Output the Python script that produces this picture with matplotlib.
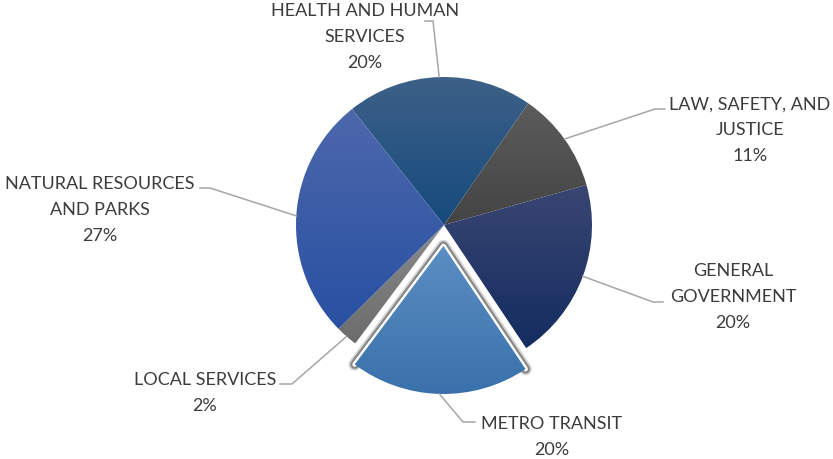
import matplotlib
matplotlib.use("Agg")
import matplotlib.pyplot as plt
import numpy as np
from matplotlib.colors import LinearSegmentedColormap

# ---- data ----
categories = ["HEALTH AND HUMAN\nSERVICES", "LAW, SAFETY, AND\nJUSTICE", "GENERAL\nGOVERNMENT",
              "METRO TRANSIT", "LOCAL SERVICES", "NATURAL RESOURCES\nAND PARKS"]
values = [20.3, 11.0, 20.0, 19.6, 2.4, 26.7]
pct_labels = ["20%", "11%", "20%", "20%", "2%", "27%"]

# ---- styles ----
explode_px = [0, 0, 0, 21, 0, 0]
grad_top = ["#3d6188", "#5c5c5c", "#3a4672", "#5b8ec2", "#8a8a8a", "#4d68ac"]
grad_bot = ["#164a7d", "#444444", "#132c60", "#3a71ac", "#6c6c6c", "#2850a2"]
# label layout (pixel coords from top-left): text center, leader elbow
label_pos = [(365, 37), (750, 130), (733, 297), (552, 437), (205, 393), (100, 210)]
elbows = [((433, 22), (425, 22)), ((655, 110), (665, 110)), ((653, 303), (663, 303)),
          ((463, 423), (475, 423)), ((292, 385), (280, 385)), ((210, 189), (200, 189))]
text_color = "#3c3c3c"
W, H = 833, 460

fig = plt.figure(figsize=(W / 100, H / 100), dpi=100)
ax = fig.add_axes([0, 0, 1, 1])
center = (444, H - 226)
radius = 148
wedges, _ = ax.pie(values, startangle=128.4, counterclock=False, radius=radius,
                   center=center, explode=explode_px, wedgeprops=dict(linewidth=0))
ax.set_xlim(0, W)
ax.set_ylim(0, H)
ax.set_aspect("equal")
ax.axis("off")

grad = np.linspace(1, 0, 256).reshape(-1, 1)
for i, w in enumerate(wedges):
    w.set_facecolor("none")
    w.set_edgecolor("none")
    ext = w.get_path().get_extents()
    z = 1
    if explode_px[i] > 0:
        cx, cy = w.center
        t1, t2 = np.deg2rad(w.theta1), np.deg2rad(w.theta2)
        xs = [cx + w.r * np.cos(t1), cx, cx + w.r * np.cos(t2)]
        ys = [cy + w.r * np.sin(t1), cy, cy + w.r * np.sin(t2)]
        for lw, col, al, zz in [(9, "#505050", 0.25, 2), (6.5, "#4a4a4a", 0.55, 2.1),
                                (3.4, "white", 1.0, 3)]:
            ax.plot(xs, ys, color=col, lw=lw, alpha=al, zorder=zz,
                    solid_joinstyle="round", solid_capstyle="round")
        z = 4
    cmap = LinearSegmentedColormap.from_list("g%d" % i, [grad_bot[i], grad_top[i]])
    im = ax.imshow(grad, extent=[ext.x0, ext.x1, ext.y0, ext.y1], cmap=cmap,
                   aspect="auto", zorder=z, interpolation="bilinear", origin="upper")
    im.set_clip_path(w)

ax.set_xlim(0, W)
ax.set_ylim(0, H)

# labels and leader lines
for i, w in enumerate(wedges):
    mid = np.deg2rad((w.theta1 + w.theta2) / 2)
    sx = w.center[0] + w.r * np.cos(mid)
    sy = w.center[1] + w.r * np.sin(mid)
    (ex, ey), (fx, fy) = elbows[i]
    ax.plot([sx, ex, fx], [sy, H - ey, H - fy], color="#a6a6a6", lw=1.1, zorder=5,
            solid_joinstyle="miter")
    tx, ty = label_pos[i]
    ax.text(tx, H - ty, categories[i] + "\n" + pct_labels[i], ha="center", va="center",
            multialignment="center", fontsize=13, family="Lato", color=text_color,
            linespacing=1.75, zorder=6)

fig.savefig("out.png", dpi=100)
